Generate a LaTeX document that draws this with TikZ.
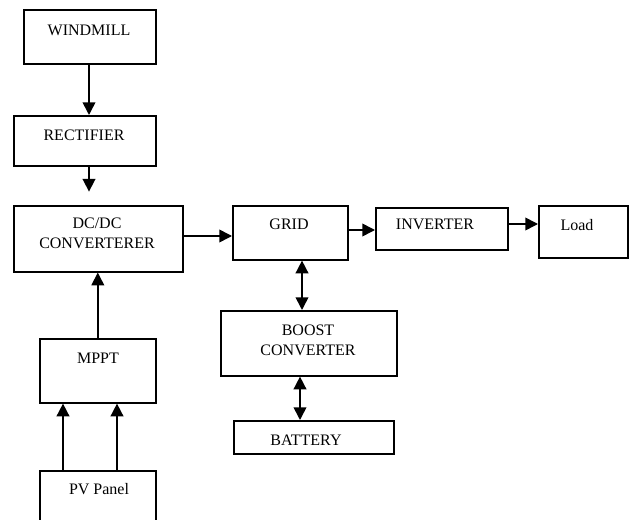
\documentclass[tikz,border=0pt]{standalone}
\usepackage{fontspec}
\setmainfont{Liberation Serif}
\usetikzlibrary{arrows.meta,calc}
\begin{document}
\begin{tikzpicture}[x=0.75pt,y=-0.75pt,
  box/.style={draw=black,line width=1.2pt,anchor=north west,inner sep=0pt},
  lbl/.style={inner sep=0pt,font=\fontsize{12}{15}\selectfont,align=center},
  conn/.style={line width=1.2pt,-{Triangle[length=9.5pt,width=9.5pt]}},
  bconn/.style={line width=1.2pt,{Triangle[length=9.5pt,width=9.5pt]}-{Triangle[length=9.5pt,width=9.5pt]}}]
\useasboundingbox (0,0) rectangle (635,520);
\clip (0,0) rectangle (635,520);
% boxes
\node[box,minimum width=132*0.75pt,minimum height=54*0.75pt] (wind) at (23,9) {};
\node[box,minimum width=142*0.75pt,minimum height=50*0.75pt] (rect) at (13,115) {};
\node[box,minimum width=169*0.75pt,minimum height=66*0.75pt] (dcdc) at (13,205) {};
\node[box,minimum width=115*0.75pt,minimum height=54*0.75pt] (grid) at (232,205) {};
\node[box,minimum width=132*0.75pt,minimum height=42*0.75pt] (inv) at (375,207) {};
\node[box,minimum width=89*0.75pt,minimum height=52*0.75pt] (load) at (538,205) {};
\node[box,minimum width=176*0.75pt,minimum height=65*0.75pt] (boost) at (220,310) {};
\node[box,minimum width=160*0.75pt,minimum height=33*0.75pt] (batt) at (233,420) {};
\node[box,minimum width=116*0.75pt,minimum height=64*0.75pt] (mppt) at (39,338) {};
\node[box,minimum width=116*0.75pt,minimum height=70*0.75pt] (pv) at (39,470) {};
% labels
\node[lbl] (twind) at (89,30) {WINDMILL};
\node[lbl] (trect) at (84,135) {RECTIFIER};
\node[lbl] (tdcdc) at (97,233) {DC/DC\\CONVERTERER};
\node[lbl] (tgrid) at (289,224) {GRID};
\node[lbl] (tinv) at (435,224) {INVERTER};
\node[lbl] (tload) at (577,225) {Load};
\node[lbl] (tboost) at (308,340) {BOOST\\CONVERTER};
\node[lbl] (tbatt) at (306,440) {BATTERY};
\node[lbl] (tmppt) at (98,358) {MPPT};
\node[lbl] (tpv) at (99,489) {PV Panel};
% connectors
\coordinate (w1) at ($(wind.south west)+(66,0)$);
\draw[conn] (w1) -- (w1 |- rect.north);
\coordinate (r1) at ($(rect.south west)+(76,0)$);
\coordinate (r2) at ($(r1)+(0,25)$);
\draw[conn] (r1) -- (r2);
\draw[conn] (mppt.north) -- (mppt.north |- dcdc.south);
\coordinate (p1) at ($(pv.north west)+(24,0)$);
\coordinate (p2) at ($(pv.north west)+(78,0)$);
\draw[conn] (p1) -- (p1 |- mppt.south);
\draw[conn] (p2) -- (p2 |- mppt.south);
\coordinate (d1) at ($(dcdc.north east)+(0,31)$);
\draw[conn] (d1) -- (d1 -| grid.west);
\coordinate (g1) at ($(grid.north east)+(0,25)$);
\draw[conn] (g1) -- (g1 -| inv.west);
\coordinate (i1) at ($(inv.north east)+(0,17)$);
\draw[conn] (i1) -- (i1 -| load.west);
\coordinate (g2) at ($(grid.south west)+(70,0)$);
\draw[bconn] (g2) -- (g2 |- boost.north);
\coordinate (b1) at ($(boost.south west)+(80,0)$);
\draw[bconn] (b1) -- (b1 |- batt.north);
\end{tikzpicture}
\end{document}
